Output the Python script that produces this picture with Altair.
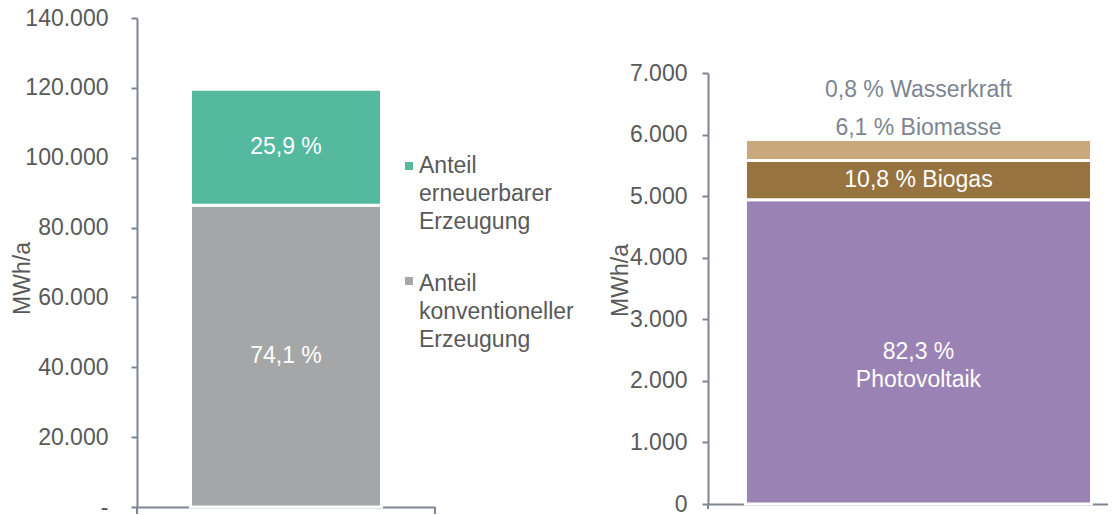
import altair as alt
import pandas as pd

FONT = "Liberation Sans"
AXIS_COLOR = "#7f8691"
TEXT_COLOR = "#595959"
NOTE_COLOR = "#7d8592"

# ---------------- data ----------------
left_categories = ["Anteil konventioneller Erzeugung", "Anteil erneuerbarer Erzeugung"]
left_values = [86400, 33200]
left_labels = ["74,1 %", "25,9 %"]
left_colors = ["#a5a6a8", "#55b9a0"]
left_ticks = [0, 20000, 40000, 60000, 80000, 100000, 120000, 140000]

right_categories = ["Photovoltaik", "Biogas", "Biomasse", "Wasserkraft"]
right_values = [4940, 640, 340, 45]
right_labels = ["82,3 %\nPhotovoltaik", "10,8 % Biogas", "6,1 % Biomasse", "0,8 % Wasserkraft"]
right_colors = ["#9b82b4", "#977340", "#c8a87c", "#7fa7d0"]
right_ticks = [0, 1000, 2000, 3000, 4000, 5000, 6000, 7000]

# ---------------- tables ----------------
ldf = pd.DataFrame({"category": left_categories, "value": left_values, "label": left_labels,
                    "color": left_colors})
ldf["order"] = range(len(ldf))
ldf["panel"] = "A"
ldf["mid"] = ldf["value"].cumsum() - ldf["value"] / 2

rdf = pd.DataFrame({"category": right_categories, "value": right_values, "label": right_labels})
rdf["order"] = range(len(rdf))
rdf["panel"] = "B"
rdf["mid"] = rdf["value"].cumsum() - rdf["value"] / 2
rdf["total"] = rdf["value"].sum()

LW, LH = 298, 489
RW, RH = 400, 431

label_expr = "datum.value == 0 ? '-' : replace(format(datum.value, ','), ',', '.')"
label_expr_r = "replace(format(datum.value, ','), ',', '.')"

def yaxis(values, expr, pad, tx, ty):
    return alt.Axis(
        values=values, labelExpr=expr, title="MWh/a", grid=False,
        tickSize=6, tickWidth=2, tickColor=AXIS_COLOR,
        domainColor=AXIS_COLOR, domainWidth=2,
        labelFontSize=23, labelColor=TEXT_COLOR, labelPadding=pad,
        titleFontSize=23, titleColor=TEXT_COLOR, titleFontWeight="normal",
        titleX=tx, titleY=ty, titleAlign="center", titleBaseline="alphabetic",
    )

def xaxis():
    return alt.Axis(title=None, labels=False, ticks=False, domainColor=AXIS_COLOR, domainWidth=2)

# ---------------- left panel ----------------
lbase = alt.Chart(ldf)
lbars = lbase.mark_bar(stroke="white", strokeWidth=3).encode(
    x=alt.X("panel:N", scale=alt.Scale(paddingInner=0, paddingOuter=0.28), axis=xaxis()),
    y=alt.Y("value:Q", stack="zero", scale=alt.Scale(domain=[0, 140000], nice=False),
            axis=yaxis(left_ticks, label_expr, 23, -108, 260)),
    color=alt.Color("category:N",
                    scale=alt.Scale(domain=left_categories, range=left_colors),
                    legend=None),
    order=alt.Order("order:Q"),
)
ltext = lbase.mark_text(color="white", fontSize=23, font=FONT).encode(
    x="panel:N", y="mid:Q", text="label:N"
)

# legend (entries drawn from the category / colour lists)
leg_layers = []
for i, (ly_sym, ly_txt) in zip([1, 0], [(148, 155), (263, 273)]):
    sub = ldf[ldf["order"] == i]
    leg_layers.append(
        alt.Chart(sub).mark_square(size=64, opacity=1).encode(
            x=alt.value(272), y=alt.value(ly_sym),
            color=alt.Color("color:N", scale=None),
        )
    )
    leg_layers.append(
        alt.Chart(sub).mark_text(fontSize=23, font=FONT, color=TEXT_COLOR, align="left",
                                 baseline="alphabetic", lineBreak=" ", lineHeight=28).encode(
            x=alt.value(282), y=alt.value(ly_txt), text="category:N"
        )
    )

lend = alt.Chart(ldf.head(1)).mark_rule(color=AXIS_COLOR, strokeWidth=2).encode(
    x=alt.value(LW), y=alt.value(LH), y2=alt.value(LH + 7)
)
lend0 = alt.Chart(ldf.head(1)).mark_rule(color=AXIS_COLOR, strokeWidth=2).encode(
    x=alt.value(0), y=alt.value(LH), y2=alt.value(LH + 7)
)
left = alt.layer(lbars, ltext, *leg_layers, lend, lend0).properties(width=LW, height=LH)

# ---------------- right panel ----------------
rbase = alt.Chart(rdf)
rbars = rbase.mark_bar(stroke="white", strokeWidth=3).encode(
    x=alt.X("panel:N", scale=alt.Scale(paddingInner=0, paddingOuter=0.078, align=0.694), axis=xaxis()),
    y=alt.Y("value:Q", stack="zero", scale=alt.Scale(domain=[0, 7000], nice=False),
            axis=yaxis(right_ticks, label_expr_r, 15, -81, 207)),
    color=alt.Color("category:N", scale=alt.Scale(domain=right_categories, range=right_colors), legend=None),
    order=alt.Order("order:Q"),
)
rin = rbase.transform_filter("datum.order < 2").mark_text(
    color="white", fontSize=23, font=FONT, lineBreak="\n", lineHeight=28
).encode(x="panel:N", y="mid:Q", text="label:N")
rbio = rbase.transform_filter("datum.order == 2").mark_text(
    color=NOTE_COLOR, fontSize=23, font=FONT, dy=-9
).encode(x="panel:N", y="total:Q", text="label:N")
rwas = rbase.transform_filter("datum.order == 3").mark_text(
    color=NOTE_COLOR, fontSize=23, font=FONT, dy=-47
).encode(x="panel:N", y="total:Q", text="label:N")
rend0 = alt.Chart(rdf.head(1)).mark_rule(color=AXIS_COLOR, strokeWidth=2).encode(
    x=alt.value(0), y=alt.value(RH), y2=alt.value(RH + 5)
)
right = alt.layer(rbars, rin, rbio, rwas, rend0).properties(width=RW, height=RH)

spacer = alt.Chart(pd.DataFrame({"s": [0]})).mark_point(opacity=0).encode(
    x=alt.value(0), y=alt.value(0)
).properties(width=RW, height=55)

chart = alt.hconcat(
    left,
    alt.vconcat(spacer, right, spacing=0, bounds="flush"),
    spacing=273, bounds="flush",
).properties(
    padding={"left": 3, "top": -1, "right": 0, "bottom": 0}
).configure(font=FONT).configure_view(strokeWidth=0).resolve_scale(color="independent")

chart.save("out.html", embed_options={"renderer": "svg", "actions": False})
